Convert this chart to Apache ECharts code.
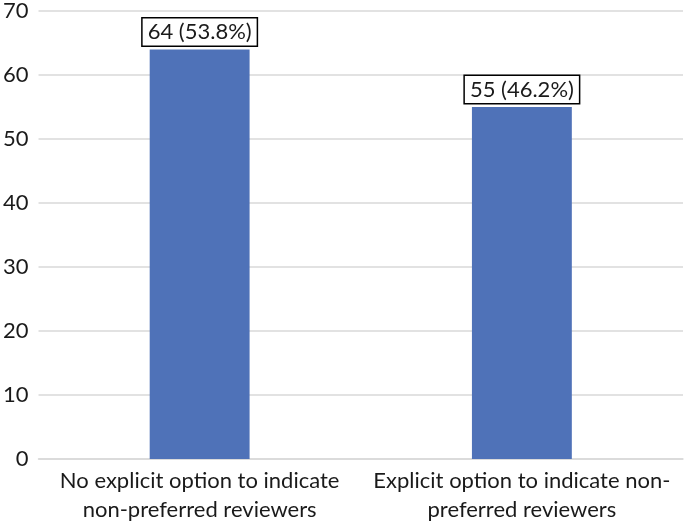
<!DOCTYPE html>
<html>
<head>
<meta charset="utf-8">
<script src="https://cdn.jsdelivr.net/npm/echarts@6/dist/echarts.min.js"></script>
<style>html,body{margin:0;padding:0;background:#fff;}#c{width:685px;height:524px;}</style>
</head>
<body>
<div id="c"></div>
<script>
const categories = ["No explicit option to indicate\nnon-preferred reviewers", "Explicit option to indicate non-\npreferred reviewers"];
const values = [64, 55];
const percents = ["53.8%", "46.2%"];

const chart = echarts.init(document.getElementById('c'), null, {renderer: 'canvas'});
const font = 'Lato, "Open Sans", sans-serif';
const fs = 22;
chart.setOption({
  animation: false,
  grid: {left: 36, right: 2, top: 8, bottom: 64, containLabel: false},
  xAxis: {
    type: 'category',
    data: categories,
    axisLine: {show: true, lineStyle: {color: '#d9d9d9', width: 1.5}},
    axisTick: {show: false},
    axisLabel: {color: '#1a1a1a', fontSize: fs, fontFamily: font, lineHeight: 29, margin: 7, interval: 0}
  },
  yAxis: {
    type: 'value',
    min: 0, max: 70, interval: 10,
    axisLine: {show: false},
    axisTick: {show: false},
    splitLine: {lineStyle: {color: '#d9d9d9', width: 1.5}},
    axisLabel: {color: '#1a1a1a', fontSize: fs, fontFamily: font, margin: 10, align: 'right'}
  },
  series: [{
    type: 'bar',
    data: values,
    barWidth: '31%',
    itemStyle: {color: '#4f72b8'},
    label: {
      show: true,
      position: 'top',
      distance: 4,
      formatter: p => p.value + ' (' + percents[p.dataIndex] + ')',
      color: '#1a1a1a',
      fontSize: fs,
      fontFamily: font,
      backgroundColor: '#fff',
      borderColor: '#000',
      borderWidth: 1.5,
      padding: [3, 5, 2, 5]
    }
  }]
});
</script>
</body>
</html>
